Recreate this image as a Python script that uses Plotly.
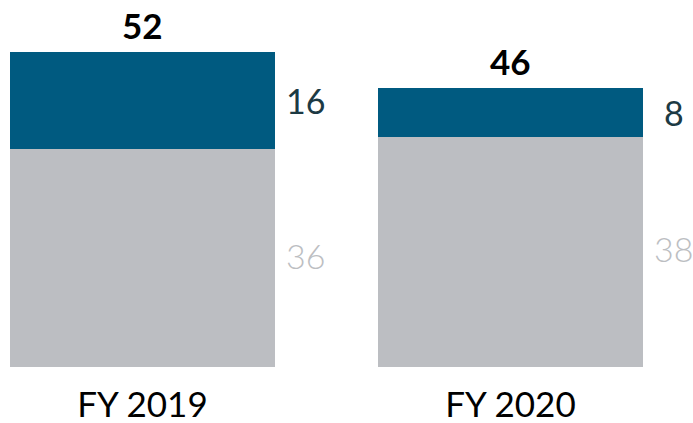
import plotly.graph_objects as go

categories = ["FY 2019", "FY 2020"]
base_values = [36, 38]
top_values = [16, 8]
totals = [52, 46]

x_pos = [0, 1]
BLUE = "#005A80"
GRAY = "#BCBEC2"
FONT = "Lato"

fig = go.Figure()
fig.add_bar(x=x_pos, y=base_values, marker_color=GRAY, width=0.72, marker_line_width=0,
            hoverinfo="skip")
fig.add_bar(x=x_pos, y=top_values, marker_color=BLUE, width=0.72, marker_line_width=0,
            hoverinfo="skip")

ann = []
for xi, b, t, tot in zip(x_pos, base_values, top_values, totals):
    ann.append(dict(x=xi, y=b / 2, text=str(b), showarrow=False, xshift=163, yshift=3,
                    font=dict(family=FONT, size=34, color=GRAY, weight=300)))
    ann.append(dict(x=xi, y=b + t / 2, text=str(t), showarrow=False, xshift=163,
                    font=dict(family=FONT, size=34, color="#1C3A44", weight=400)))
    ann.append(dict(x=xi, y=tot, text=str(tot), showarrow=False, yanchor="bottom", yshift=4,
                    font=dict(family=FONT, size=35, color="#000000", weight=700)))

fig.update_layout(
    barmode="stack",
    width=693, height=423,
    margin=dict(l=0, r=0, t=0, b=56, autoexpand=False),
    paper_bgcolor="white", plot_bgcolor="white",
    showlegend=False,
    annotations=ann,
    xaxis=dict(range=[-142.5 / 368, (693 - 142.5) / 368], tickvals=x_pos, ticktext=categories,
               automargin=False,
               showgrid=False, zeroline=False, showline=False,
               ticks="outside", ticklen=7, tickcolor="rgba(0,0,0,0)",
               tickfont=dict(family=FONT, size=35, color="#000000", weight=400)),
    yaxis=dict(range=[0, 367 / 6.0556], visible=False, showgrid=False, automargin=False),
)
fig.write_html("out.html", config={"displayModeBar": False, "staticPlot": True},
               post_script="document.body.style.margin='0';document.body.style.overflow='hidden';")
